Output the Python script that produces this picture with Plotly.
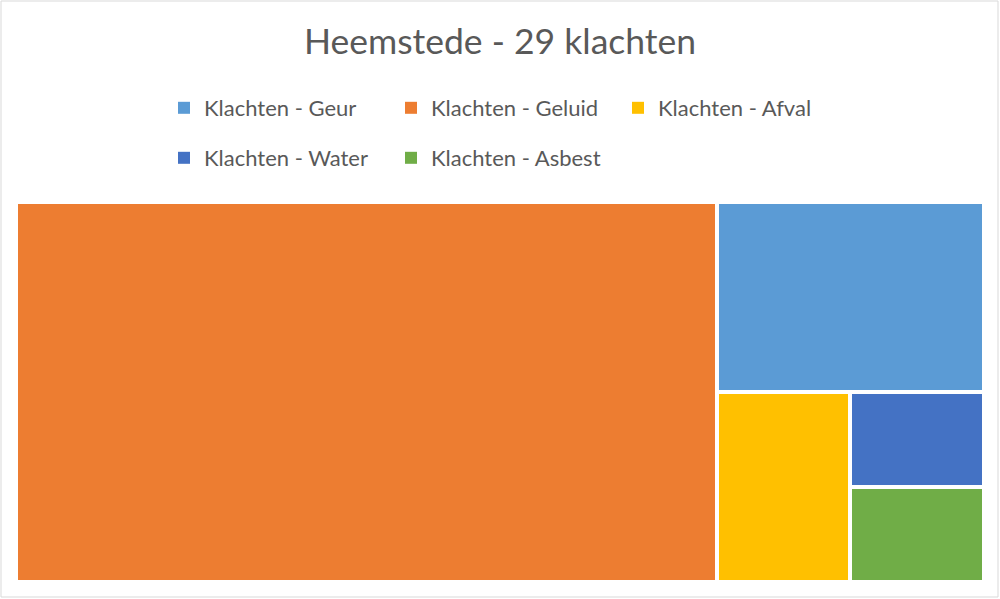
import plotly.graph_objects as go

# ---- data ----
categories = ["Klachten - Geur", "Klachten - Geluid", "Klachten - Afval",
              "Klachten - Water", "Klachten - Asbest"]
values = [4, 21, 2, 1, 1]
colors = ["#5B9BD5", "#ED7D31", "#FFC000", "#4472C4", "#70AD47"]
title_text = "Heemstede - 29 klachten"

# plot area in pixel units (axis units == pixels)
ML, MR, MT, MB = 16, 16, 202, 17
W, H = 1000 - ML - MR, 599 - MT - MB
GAP = 4


def worst(row, side):
    s = sum(row)
    return max(max(side * side * r / (s * s), (s * s) / (side * side * r)) for r in row)


def squarify(vals, x, y, w, h):
    """Squarified treemap (Bruls et al.). vals are areas; returns rects."""
    rects = []
    vals = list(vals)
    while vals:
        side = min(w, h)
        row = [vals[0]]
        i = 1
        while i < len(vals) and worst(row + [vals[i]], side) <= worst(row, side):
            row.append(vals[i])
            i += 1
        vals = vals[i:]
        s = sum(row)
        if w >= h:  # column on the left
            cw = s / h
            yy = y
            for r in row:
                rh = r / cw
                rects.append((x, yy, cw, rh))
                yy += rh
            x += cw
            w -= cw
        else:  # row on top
            rh = s / w
            xx = x
            for r in row:
                cw = r / rh
                rects.append((xx, y, cw, rh))
                xx += cw
            y += rh
            h -= rh
    return rects


order = sorted(range(len(values)), key=lambda i: -values[i])
total = sum(values)
areas = [values[i] * W * H / total for i in order]
rects_sorted = squarify(areas, 0, 0, W, H)
rects = {order[k]: rects_sorted[k] for k in range(len(order))}

fig = go.Figure()
for i, name in enumerate(categories):
    x0, y0, w, h = rects[i]
    fig.add_trace(go.Bar(
        x=[x0 + w / 2], y=[h - GAP], base=[H - y0 - h + GAP / 2], width=[w - GAP],
        name=name, marker=dict(color=colors[i], line=dict(width=0)),
        legend="legend" if i < 3 else "legend2",
        hovertemplate=f"{name}: {values[i]}<extra></extra>",
    ))

font_family = "Lato, 'Open Sans', sans-serif"
legend_font = dict(family=font_family, size=22, color="#595959")
fig.update_layout(
    width=1000, height=599,
    margin=dict(l=ML, r=MR, t=MT, b=MB),
    paper_bgcolor="white", plot_bgcolor="white",
    barmode="overlay", bargap=0,
    title=dict(text=title_text, x=0.5, xanchor="center", y=1 - 42 / 599, yanchor="middle",
               font=dict(family=font_family, size=35.5, color="#595959")),
    xaxis=dict(range=[0, W], visible=False, fixedrange=True),
    yaxis=dict(range=[0, H], visible=False, fixedrange=True),
    legend=dict(orientation="h", xref="container", yref="container",
                x=164 / 1000, xanchor="left", y=1 - 108 / 599, yanchor="middle",
                entrywidth=182, font=legend_font, traceorder="normal"),
    legend2=dict(orientation="h", xref="container", yref="container",
                 x=164 / 1000, xanchor="left", y=1 - 158 / 599, yanchor="middle",
                 entrywidth=182, font=legend_font, traceorder="normal"),
    shapes=[dict(type="rect", xref="paper", yref="paper",
                 x0=-(ML - 1) / W, x1=1 + (MR - 2) / W, y0=-(MB - 2) / H, y1=1 + (MT - 1) / H,
                 line=dict(color="#D9D9D9", width=1), fillcolor="rgba(0,0,0,0)")],
)

fig.write_html("out.html")
